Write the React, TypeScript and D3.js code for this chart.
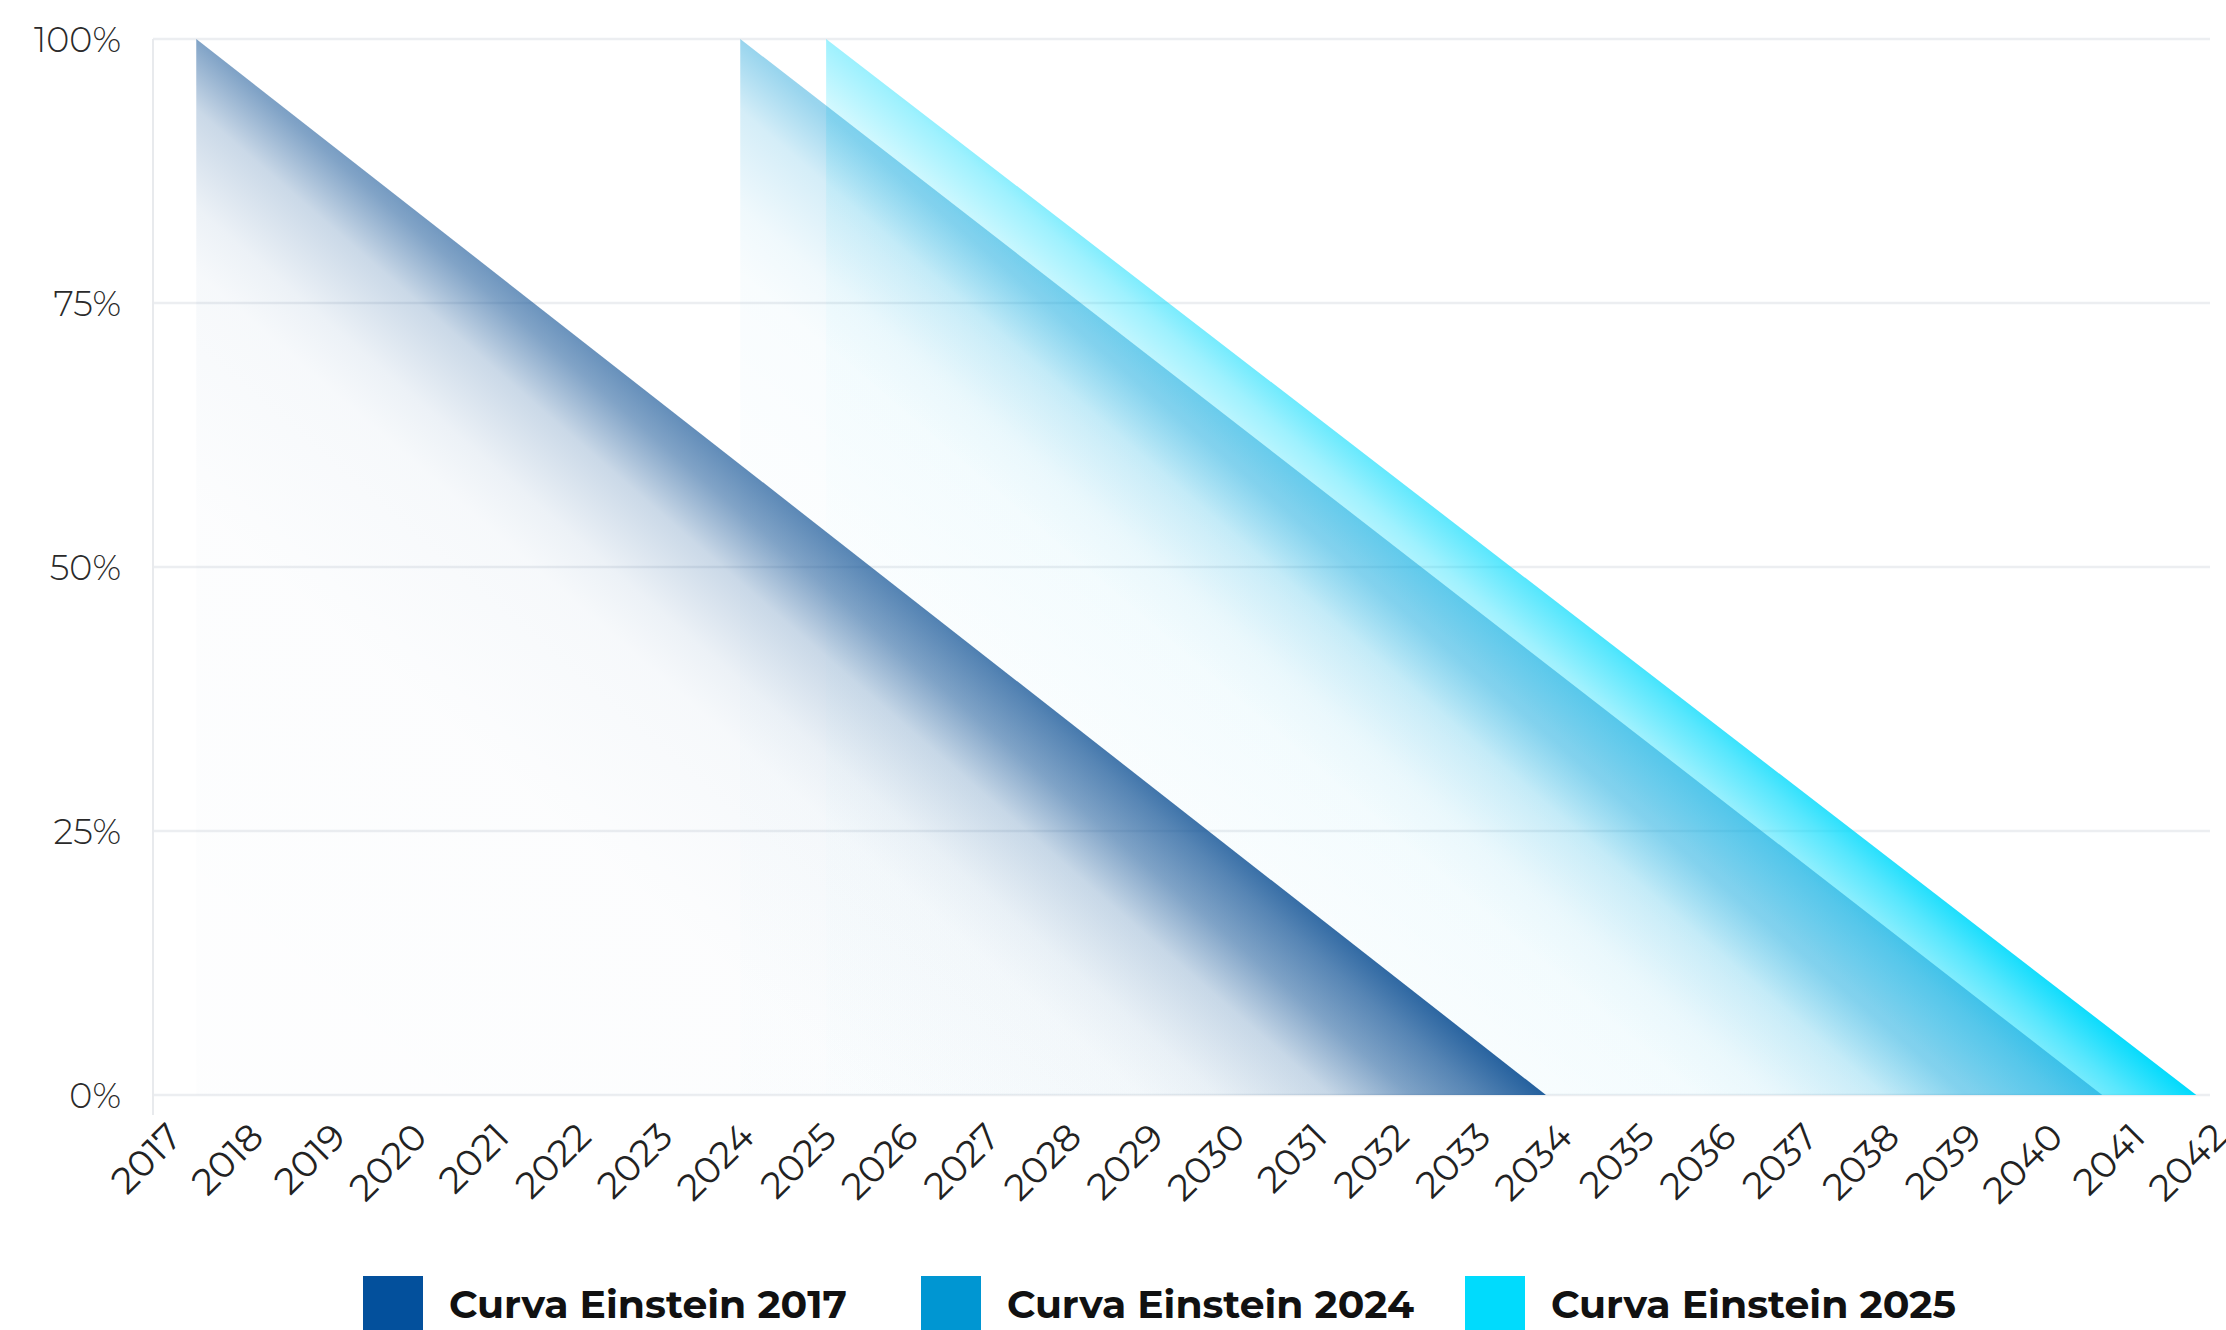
import React, { useRef, useEffect } from 'react';
import * as d3 from 'd3';

// x-axis tick labels
const years = [
  2017, 2018, 2019, 2020, 2021, 2022, 2023, 2024, 2025, 2026, 2027, 2028, 2029,
  2030, 2031, 2032, 2033, 2034, 2035, 2036, 2037, 2038, 2039, 2040, 2041, 2042,
];
const yTicks = [0, 25, 50, 75, 100];

const seriesNames = ['Curva Einstein 2017', 'Curva Einstein 2024', 'Curva Einstein 2025'];
const seriesColors = ['#0d4f93', '#0096d4', '#00dafc'];
const legendColors = ['#03509c', '#0096d2', '#00dbfd'];

// each curve: (year, percent) points
const curve2017 = [
  { year: 2017.15, value: 100 },
  { year: 2033.65, value: 0 },
];
const curve2024 = [
  { year: 2023.8, value: 100 },
  { year: 2040.45, value: 0 },
];
const curve2025 = [
  { year: 2024.85, value: 100 },
  { year: 2041.6, value: 0 },
];
const curves = [curve2017, curve2024, curve2025];

// opacity of the fill at the apex and at the end of each curve
const apexAlpha = [0.52, 0.4, 0.38];
const endAlpha = [0.9, 0.5, 1];

const WIDTH = 2226;
const HEIGHT = 1330;

export default function App() {
  const svgRef = useRef<SVGSVGElement>(null);

  useEffect(() => {
    if (!svgRef.current) return;
    const svg = d3.select(svgRef.current);
    svg.selectAll('*').remove();

    const plotLeft = 153;
    const plotRight = 2210;
    const plotTop = 39;
    const plotBottom = 1095;

    const x = d3.scaleLinear().domain([2017, 2042]).range([184, 2229]);
    const y = d3.scaleLinear().domain([0, 100]).range([plotBottom, plotTop]);

    const font = "Montserrat, Roboto, 'Open Sans', sans-serif";

    // grid
    svg.append('g')
      .selectAll('line')
      .data(yTicks)
      .enter()
      .append('line')
      .attr('x1', plotLeft)
      .attr('x2', plotRight)
      .attr('y1', d => y(d))
      .attr('y2', d => y(d))
      .attr('stroke', '#eceef1')
      .attr('stroke-width', 2.5);

    svg.append('line')
      .attr('x1', plotLeft)
      .attr('x2', plotLeft)
      .attr('y1', plotTop)
      .attr('y2', plotBottom + 20)
      .attr('stroke', '#e8eaed')
      .attr('stroke-width', 2);

    const defs = svg.append('defs');
    const area = d3.area<{ year: number; value: number }>()
      .x(d => x(d.year))
      .y0(y(0))
      .y1(d => y(d.value));

    // draw last series first so the first one sits on top
    const order = [2, 1, 0];
    order.forEach(i => {
      const pts = curves[i];
      const start = pts[0];
      const end = pts[pts.length - 1];
      const px = x(start.year);
      const py = y(start.value);
      const W = x(end.year) - px;
      const H = y(0) - py;
      // u = sx - 0.9 * sy : 0 at the apex, fades quickly away from the slope
      const gx = 1 / W;
      const gy = -0.9 / H;
      const g2 = gx * gx + gy * gy;
      const uMin = -0.9;
      const uMax = 0.1;

      const grad = defs.append('linearGradient')
        .attr('id', `grad-${i}`)
        .attr('gradientUnits', 'userSpaceOnUse')
        .attr('x1', px + (uMin * gx) / g2)
        .attr('y1', py + (uMin * gy) / g2)
        .attr('x2', px + (uMax * gx) / g2)
        .attr('y2', py + (uMax * gy) / g2);
      const a0 = apexAlpha[i];
      const a1 = endAlpha[i];
      const stops = [
        [0, a0 * 0.015],
        [0.5, a0 * 0.025],
        [0.7, a0 * 0.07],
        [0.756, a0 * 0.15],
        [0.84, a0 * 0.42],
        [0.9, a0],
        [0.95, a0 + (a1 - a0) * 0.45],
        [1, a1],
      ];
      stops.forEach(([o, a]) => {
        grad.append('stop')
          .attr('offset', o)
          .attr('stop-color', seriesColors[i])
          .attr('stop-opacity', a);
      });

      svg.append('path')
        .datum(pts)
        .attr('d', area)
        .attr('fill', `url(#grad-${i})`);
    });

    // y labels
    svg.append('g')
      .selectAll('text')
      .data(yTicks)
      .enter()
      .append('text')
      .attr('x', 121)
      .attr('y', d => y(d))
      .attr('dominant-baseline', 'central')
      .attr('text-anchor', 'end')
      .attr('font-family', font)
      .attr('font-weight', 300)
      .attr('font-size', 35)
      .attr('fill', '#2a2a2a')
      .text(d => `${d}%`);

    // x labels
    svg.append('g')
      .selectAll('text')
      .data(years)
      .enter()
      .append('text')
      .attr('transform', d => `translate(${x(d)},${plotBottom + 44}) rotate(-45)`)
      .attr('text-anchor', 'end')
      .attr('font-family', font)
      .attr('font-weight', 400)
      .attr('font-size', 37)
      .attr('fill', '#222')
      .text(d => String(d));

    // legend
    const legendX = [363, 921, 1465];
    const legendTextW = [398, 407, 405];
    const legendY = 1304;
    const legend = svg.append('g')
      .selectAll('g')
      .data(seriesNames)
      .enter()
      .append('g')
      .attr('transform', (_, i) => `translate(${legendX[i]},${legendY})`);
    legend.append('rect')
      .attr('x', 0)
      .attr('y', -28)
      .attr('width', 60)
      .attr('height', 58)
      .attr('fill', (_, i) => legendColors[i]);
    legend.append('text')
      .attr('x', 86)
      .attr('y', 0)
      .attr('dominant-baseline', 'central')
      .attr('font-family', font)
      .attr('font-weight', 700)
      .attr('font-size', 39)
      .attr('textLength', (_, i) => legendTextW[i])
      .attr('lengthAdjust', 'spacingAndGlyphs')
      .attr('fill', '#111')
      .text(d => d);
  }, []);

  return (
    <div style={{ position: 'fixed', left: 0, top: 0, background: '#fff' }}>
      <svg ref={svgRef} width={WIDTH} height={HEIGHT} style={{ display: 'block' }} />
    </div>
  );
}
